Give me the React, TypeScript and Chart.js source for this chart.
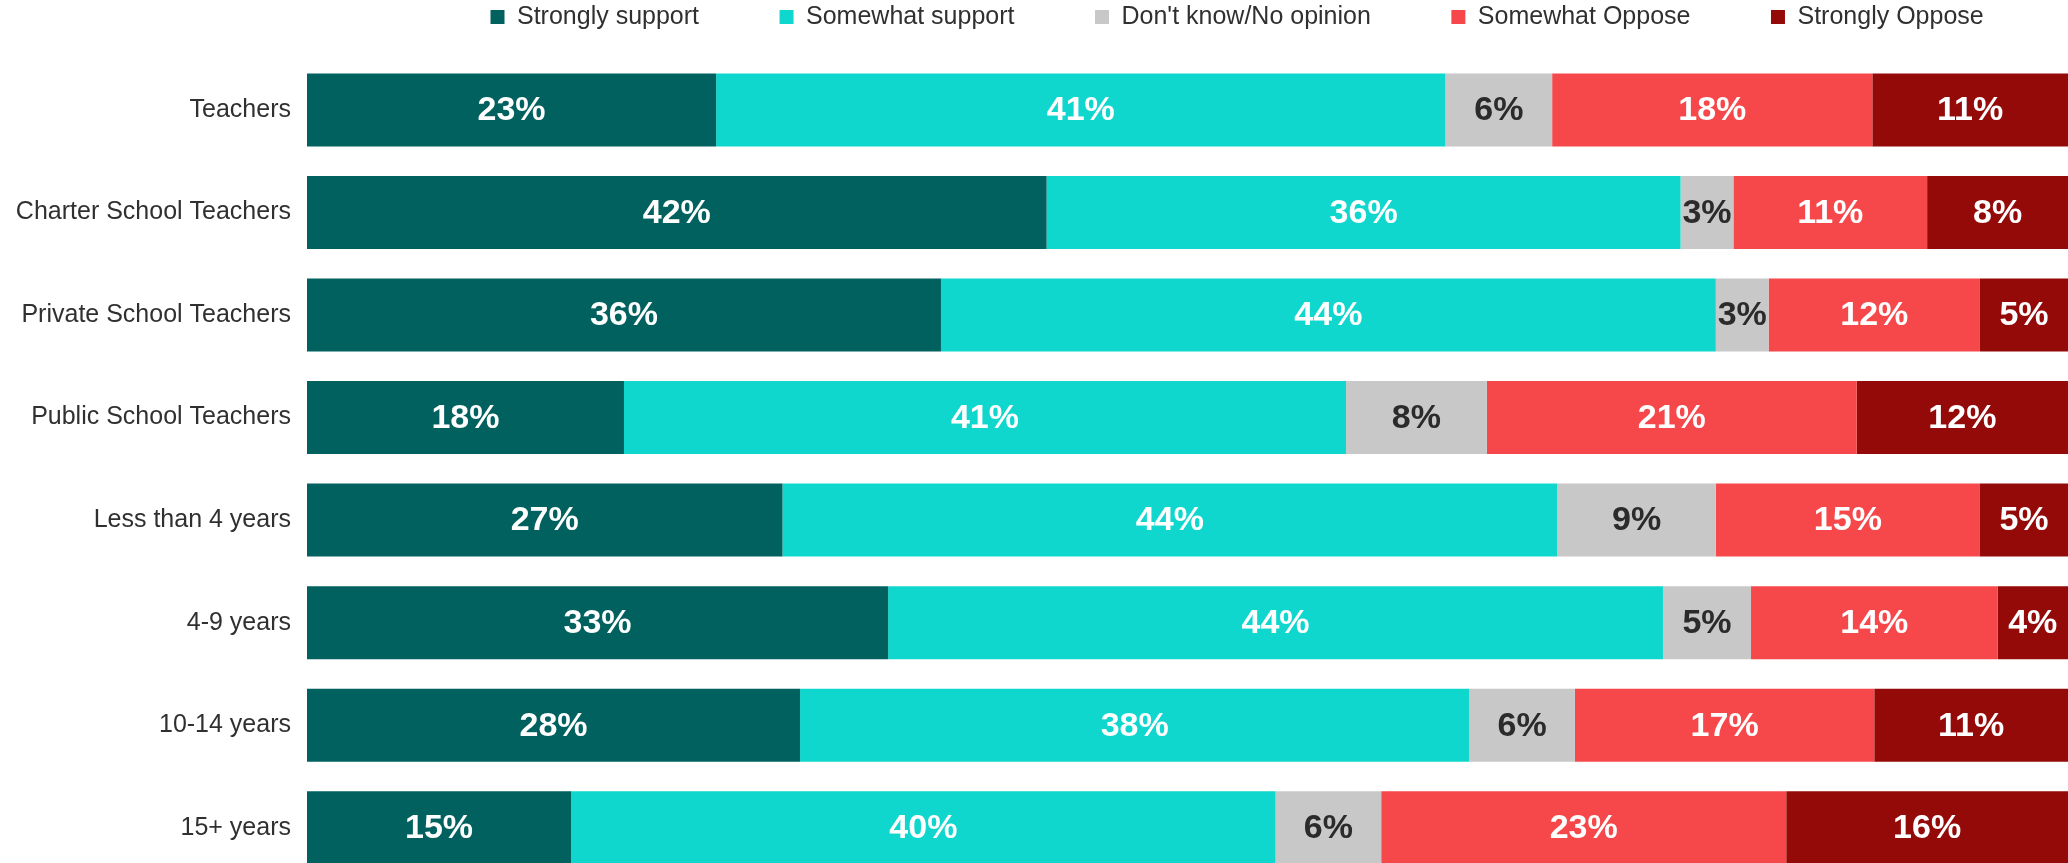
import React, { useEffect, useRef } from 'react';
import { Chart, registerables } from 'chart.js';

Chart.register(...registerables);

const categories = [
  'Teachers',
  'Charter School Teachers',
  'Private School Teachers',
  'Public School Teachers',
  'Less than 4 years',
  '4-9 years',
  '10-14 years',
  '15+ years',
];
const seriesNames = ['Strongly support', 'Somewhat support', "Don't know/No opinion", 'Somewhat Oppose', 'Strongly Oppose'];
const stronglySupport = [23, 42, 36, 18, 27, 33, 28, 15];
const somewhatSupport = [41, 36, 44, 41, 44, 44, 38, 40];
const dontKnow = [6, 3, 3, 8, 9, 5, 6, 6];
const somewhatOppose = [18, 11, 12, 21, 15, 14, 17, 23];
const stronglyOppose = [11, 8, 5, 12, 5, 4, 11, 16];

const rawSeries = [stronglySupport, somewhatSupport, dontKnow, somewhatOppose, stronglyOppose];
const seriesColors = ['#01615f', '#0fd7ce', '#c8c8c8', '#f6484a', '#940a09'];
const labelColors = ['#ffffff', '#ffffff', '#2b2b2b', '#ffffff', '#ffffff'];

const FONT = '"Liberation Sans", Arial, Helvetica, sans-serif';
const CANVAS_W = 2068;
const CANVAS_H = 879;
const LEGEND_HEIGHT = 58.7;
const LEGEND_LEFT = 410;
const LEGEND_PAD = 80.5;
const LEGEND_FONT = 25;
const LEGEND_TEXT_CY = 17;
const AXIS_WIDTH = 307;

const rowTotals = categories.map((_, i) => rawSeries.reduce((s, arr) => s + arr[i], 0));

const legendPlacer = {
  id: 'legendPlacer',
  beforeLayout(chart: any) {
    const legend = chart.legend;
    if (legend && !legend.__patched) {
      const origFit = legend.fit;
      legend.fit = function () {
        origFit.call(this);
        this.height = LEGEND_HEIGHT;
      };
      legend.__patched = true;
    }
  },
  afterLayout(chart: any) {
    const legend = chart.legend;
    if (!legend) return;
    legend.left = LEGEND_LEFT;
    legend.right = LEGEND_LEFT + 3000;
    legend.top = LEGEND_TEXT_CY - LEGEND_PAD - LEGEND_FONT / 2;
  },
};

const segmentLabels = {
  id: 'segmentLabels',
  afterDatasetsDraw(chart: any) {
    const ctx = chart.ctx;
    ctx.save();
    ctx.font = `bold 34px ${FONT}`;
    ctx.textAlign = 'center';
    ctx.textBaseline = 'middle';
    chart.data.datasets.forEach((_ds: any, di: number) => {
      const meta = chart.getDatasetMeta(di);
      meta.data.forEach((bar: any, i: number) => {
        const { x, base, y } = bar.getProps(['x', 'base', 'y'], true);
        ctx.fillStyle = labelColors[di];
        ctx.fillText(rawSeries[di][i] + '%', (x + base) / 2, y + 1);
      });
    });
    ctx.restore();
  },
};

export default function App() {
  const ref = useRef<HTMLCanvasElement | null>(null);

  useEffect(() => {
    if (!ref.current) return;
    const chart = new Chart(ref.current, {
      type: 'bar',
      data: {
        labels: categories,
        datasets: rawSeries.map((arr, di) => ({
          label: seriesNames[di],
          data: arr.map((v, i) => (v / rowTotals[i]) * 100),
          backgroundColor: seriesColors[di],
          borderWidth: 0,
          categoryPercentage: 1,
          barPercentage: 0.712,
        })),
      },
      options: {
        indexAxis: 'y',
        responsive: false,
        animation: false,
        devicePixelRatio: 1,
        events: [],
        layout: { padding: 0 },
        scales: {
          x: {
            stacked: true,
            min: 0,
            max: 100,
            display: false,
          },
          y: {
            stacked: true,
            grid: { display: false, drawTicks: false },
            border: { display: false },
            ticks: {
              padding: 16,
              color: '#303030',
              font: { family: FONT, size: 25 },
            },
            afterFit(scale: any) {
              scale.width = AXIS_WIDTH;
              scale.paddingTop = 0;
              scale.paddingBottom = 0;
            },
          },
        },
        plugins: {
          legend: {
            display: true,
            position: 'top',
            align: 'start',
            labels: {
              boxWidth: 14,
              boxHeight: 14,
              padding: LEGEND_PAD,
              color: '#303030',
              font: { family: FONT, size: LEGEND_FONT },
            },
          },
          tooltip: { enabled: false },
        },
      },
      plugins: [legendPlacer, segmentLabels],
    } as any);
    return () => chart.destroy();
  }, []);

  return (
    <div
      style={{
        position: 'fixed',
        top: 0,
        left: 0,
        width: CANVAS_W,
        height: 863,
        overflow: 'hidden',
        background: '#ffffff',
      }}
    >
      <canvas
        ref={ref}
        width={CANVAS_W}
        height={CANVAS_H}
        style={{ display: 'block', width: CANVAS_W, height: CANVAS_H }}
      />
    </div>
  );
}
